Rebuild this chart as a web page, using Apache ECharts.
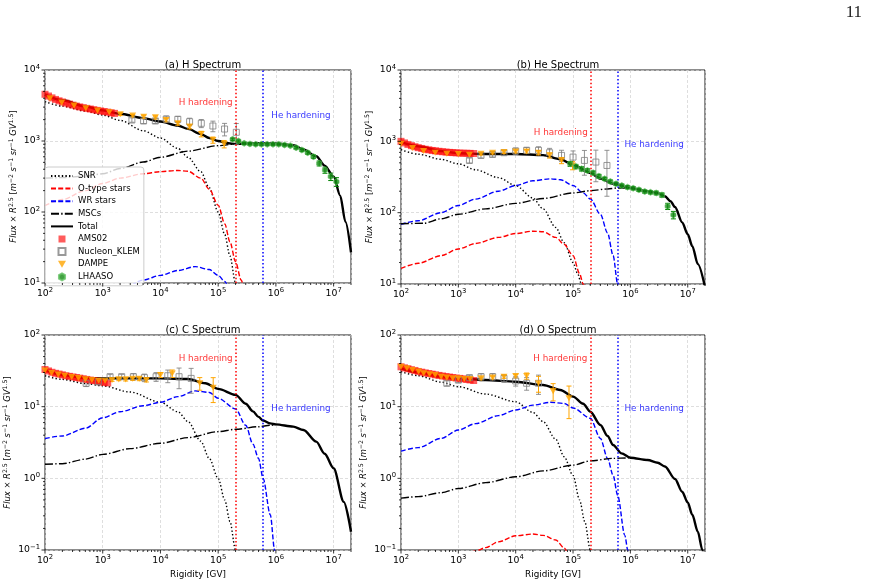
<!DOCTYPE html>
<html>
<head>
<meta charset="utf-8">
<script src="https://cdn.jsdelivr.net/npm/echarts/dist/echarts.min.js"></script>
<style>
html,body{margin:0;padding:0;background:#fff;}
#chart{width:869px;height:583px;}
</style>
</head>
<body>
<div id="chart"></div>
<script>
// ---------- model curves, [rigidity GV, flux*R^2.5] ----------
var H_SNR = [[1e2,3580],[2e2,3100],[5e2,2650],[1e3,2320],[2e3,1950],[5e3,1400],[1e4,1100],[2e4,790],[3e4,590],[5e4,370],[7e4,220],[1e5,100],[1.3e5,48],[1.6e5,24],[2e5,10],[2.3e5,5]];
var H_OTYPE = [[1e2,123],[2e2,150],[5e2,200],[1e3,252],[2e3,300],[5e3,345],[1e4,370],[2e4,385],[3e4,375],[5e4,300],[7e4,210],[1e5,125],[1.3e5,68],[1.6e5,38],[2e5,20],[2.5e5,11],[3e5,6]];
var H_WR = [[2.5e3,8],[5e3,11],[1e4,12.8],[2e4,15],[4e4,17],[7e4,15.5],[1e5,12.8],[1.3e5,10.5],[1.6e5,8],[2e5,5]];
var H_MSC = [[1e2,300],[2e2,305],[5e2,320],[1e3,345],[2e3,410],[5e3,505],[1e4,590],[3e4,720],[1e5,860],[2e5,905],[3e5,925],[5e5,930],[1e6,920]];
var H_TOTAL = [[1e2,4500],[2e2,3750],[5e2,3050],[1e3,2700],[2e3,2420],[5e3,2100],[1e4,1880],[2e4,1650],[3e4,1480],[5e4,1250],[7e4,1100],[1e5,1000],[1.5e5,930],[2e5,910],[3e5,920],[5e5,930],[1e6,920],[2e6,870],[3e6,760],[5e6,610],[7e6,450],[1e7,316],[1.3e7,170],[1.6e7,73],[2e7,27]];

var HE_SNR = [[1e2,763],[2e2,660],[5e2,560],[1e3,484],[2e3,400],[5e3,310],[1e4,240],[2e4,160],[3e4,113],[5e4,62],[7e4,38],[1e5,20],[1.2e5,14],[1.4e5,10],[1.7e5,6]];
var HE_OTYPE = [[1e2,16.6],[2e2,19.5],[5e2,25],[1e3,31],[2e3,37],[5e3,45],[1e4,51],[2e4,55],[3e4,54],[5e4,45],[7e4,36],[1e5,25],[1.3e5,14],[1.5e5,10],[1.8e5,6]];
var HE_WR = [[1e2,69],[2e2,77],[5e2,100],[1e3,126],[2e3,155],[5e3,200],[1e4,240],[2e4,280],[4e4,298],[6e4,290],[1e5,240],[1.5e5,190],[2e5,156],[3e5,95],[4e5,52],[5e5,25],[6e5,10],[7e5,4]];
var HE_MSC = [[1e2,70],[2.5e2,71],[5e2,82],[1e3,95],[3e3,113],[1e4,135],[3e4,158],[1e5,189],[2e5,203],[4e5,215],[6e5,222],[1e6,222]];
var HE_TOTAL = [[1e2,980],[2e2,850],[5e2,730],[1e3,680],[3e3,665],[1e4,665],[3e4,640],[6e4,560],[1e5,470],[2e5,360],[3e5,300],[5e5,255],[1e6,222],[2e6,200],[3e6,188],[4e6,170],[5e6,145],[6e6,120],[8e6,73],[1e7,50],[1.2e7,34],[1.5e7,19],[2e7,9]];

var C_SNR = [[1e2,27],[2e2,24],[5e2,21],[1e3,19.5],[3e3,16],[1e4,11.5],[2e4,8.5],[3e4,6.2],[5e4,3.3],[7e4,1.9],[1e5,1.0],[1.3e5,0.5],[1.6e5,0.25],[2e5,0.1],[2.2e5,0.06]];
var C_WR = [[1e2,3.6],[2e2,3.9],[5e2,5.0],[1e3,7.0],[2e3,8.5],[5e3,10.3],[1e4,11.5],[2e4,13.8],[4e4,16.6],[7e4,15.8],[1e5,13.1],[2e5,9.3],[3e5,5.5],[4e5,3.0],[5e5,1.9],[6e5,1.0],[8e5,0.31],[9.5e5,0.1],[1.05e6,0.05]];
var C_MSC = [[1e2,1.57],[2e2,1.6],[5e2,1.85],[1e3,2.16],[3e3,2.6],[1e4,3.08],[3e4,3.7],[1e5,4.48],[2e5,4.83],[5e5,5.25],[8e5,5.5],[1e6,5.6]];
var C_TOTAL = [[1e2,32.5],[2e2,27.7],[5e2,25],[1e3,24.8],[3e3,24.8],[1e4,24.8],[3e4,24.3],[6e4,21.2],[1e5,17.7],[2e5,14.6],[3e5,11],[4e5,8.6],[5e5,7.2],[6e5,6.4],[8e5,5.85],[1e6,5.66],[2e6,5.26],[3e6,4.72],[5e6,3.25],[7e6,2.2],[1e7,1.38],[1.5e7,0.47],[2e7,0.18]];

var O_SNR = [[1e2,30.8],[2e2,27],[5e2,22],[1e3,19],[3e3,15],[1e4,11.7],[2e4,8.3],[3e4,6.2],[5e4,3.5],[7e4,2.0],[1e5,1.1],[1.3e5,0.5],[1.6e5,0.25],[2e5,0.1],[2.2e5,0.06]];
var O_OTYPE = [[1.3e3,0.085],[2e3,0.097],[3e3,0.108],[5e3,0.13],[1e4,0.158],[2e4,0.167],[3e4,0.16],[5e4,0.138],[7e4,0.107],[8e4,0.09]];
var O_WR = [[1e2,2.4],[2e2,2.68],[5e2,3.6],[1e3,4.72],[2e3,5.8],[5e3,7.5],[1e4,9.0],[2e4,10.5],[4e4,11.5],[7e4,11.1],[1e5,9.6],[2e5,6.9],[3e5,3.6],[4e5,1.9],[5e5,1.1],[6e5,0.58],[8e5,0.16],[9e5,0.1],[1e6,0.06]];
var O_MSC = [[1e2,0.53],[2e2,0.555],[5e2,0.63],[1e3,0.72],[3e3,0.87],[1e4,1.05],[3e4,1.27],[1e5,1.53],[2e5,1.75],[5e5,1.9],[1e6,1.94]];
var O_TOTAL = [[1e2,34.3],[2e2,30.1],[5e2,26.2],[1e3,24.8],[3e3,23.5],[1e4,22.3],[3e4,20.1],[6e4,17.1],[1e5,13.8],[1.5e5,11],[2e5,8.5],[3e5,5.55],[4e5,3.9],[5e5,2.92],[7e5,2.23],[1e6,1.94],[2e6,1.8],[3e6,1.65],[4e6,1.46],[6e6,0.98],[8e6,0.65],[1e7,0.46],[1.2e7,0.31],[1.5e7,0.18],[1.8e7,0.1],[2e7,0.07]];

// ---------- measurements: rigidity, value, relative error ----------
var H_AMS_R = [100,115,132,152,175,200,230,265,305,350,400,460,530,610,700,800,920,1060,1220,1400,1600];
var H_AMS_F = [4550,4300,4050,3850,3680,3550,3420,3310,3200,3100,3020,2950,2880,2820,2760,2700,2650,2600,2550,2500,2450];
var H_DAMPE_R = [122,195,319,509,813,1296,2015,3300,5130,8180,12500,20000,32000,51000,81000,127000];
var H_DAMPE_F = [3990,3470,3150,2885,2675,2535,2375,2275,2200,2150,1977,1775,1592,1256,1033,908];
var H_DAMPE_E = [0.02,0.02,0.02,0.02,0.03,0.03,0.04,0.04,0.05,0.05,0.06,0.06,0.07,0.09,0.1,0.12];
var H_KLEM_R = [3200,5100,8150,12600,20000,32000,51000,81000,129000,206000];
var H_KLEM_F = [1975,1915,1915,2040,2020,1870,1775,1627,1475,1325];
var H_KLEM_E = [0.07,0.08,0.08,0.1,0.1,0.12,0.13,0.17,0.2,0.33];
var H_LHAASO_R = [1.78e5,2.24e5,2.82e5,3.55e5,4.47e5,5.62e5,7.08e5,8.91e5,1.12e6,1.41e6,1.78e6,2.24e6,2.82e6,3.55e6,4.47e6,5.62e6,7.08e6,8.91e6,1.12e7];
var H_LHAASO_F = [1055,1000,927,910,898,898,898,898,898,880,860,806,747,685,602,484,390,315,267];
var H_LHAASO_E = [0.04,0.03,0.03,0.03,0.03,0.03,0.03,0.03,0.03,0.03,0.03,0.04,0.04,0.05,0.06,0.08,0.1,0.12,0.14];

var HE_AMS_R = [100,115,132,152,175,200,230,265,305,350,400,460,530,610,700,800,920,1060,1220,1400,1600,1850];
var HE_AMS_F = [1000,950,905,870,840,815,795,775,760,745,735,725,715,707,700,695,690,685,682,680,678,675];
var HE_DAMPE_R = [100,159,248,395,630,1000,1560,2480,3950,6250,10000,15500,25000,39000,63000,98000];
var HE_DAMPE_F = [927,806,731,693,670,665,649,670,693,708,720,720,693,635,540,459];
var HE_DAMPE_E = [0.02,0.02,0.02,0.02,0.03,0.03,0.03,0.04,0.04,0.05,0.05,0.06,0.07,0.08,0.1,0.13];
var HE_KLEM_R = [1560,2480,3950,6250,10000,15500,25000,39000,63000,100000,158000,250000,390000];
var HE_KLEM_F = [540,635,656,693,731,748,748,693,635,601,540,512,459];
var HE_KLEM_E = [0.08,0.08,0.08,0.08,0.1,0.1,0.12,0.15,0.18,0.22,0.38,0.47,0.63];
var HE_LHAASO_R = [8.91e4,1.12e5,1.41e5,1.78e5,2.24e5,2.82e5,3.55e5,4.47e5,5.62e5,7.08e5,8.91e5,1.12e6,1.41e6,1.78e6,2.24e6,2.82e6,3.55e6,4.47e6,5.62e6];
var HE_LHAASO_F = [484,444,412,390,362,325,298,273,254,240,228,220,209,198,193,189,177,123,93];
var HE_LHAASO_E = [0.08,0.07,0.07,0.06,0.06,0.06,0.05,0.05,0.05,0.05,0.05,0.05,0.05,0.05,0.05,0.06,0.07,0.1,0.12];

var C_AMS_R = [100,115,132,152,175,200,230,265,305,350,400,460,530,610,700,800,920,1060,1220];
var C_AMS_F = [33,31.5,30.2,29.2,28.5,27.8,27,26.5,26,25.5,25,24.5,24,23.5,23.2,22.8,22.3,21.8,21.5];
var C_DAMPE_R = [100,130,170,220,290,380,500,650,850,1100,1450,1900,2500,3300,4300,5700,10000,16000,48000,82000];
var C_DAMPE_F = [32,29.5,28,27,26,25,24,23.5,23,23,23.5,24,24,24.5,24.5,23.5,27.7,29,21.2,18.4];
var C_DAMPE_E = [0.02,0.02,0.02,0.02,0.02,0.02,0.03,0.03,0.03,0.03,0.04,0.04,0.05,0.05,0.06,0.06,0.08,0.12,0.2,0.38];
var C_KLEM_R = [516,840,1340,2130,3400,5280,8400,13400,21000,34000];
var C_KLEM_F = [21.2,22.4,26.2,26.2,26.2,25.4,26.2,27,26.2,24.8];
var C_KLEM_E = [0.1,0.1,0.08,0.08,0.1,0.12,0.14,0.2,0.32,0.38];

var O_AMS_R = [100,115,132,152,175,200,230,265,305,350,400,460,530,610,700,800,920,1060,1220,1400,1600,1850];
var O_AMS_F = [36,34.8,33.8,32.8,32,31,30.3,29.6,29,28.4,27.8,27.3,26.8,26.3,25.9,25.5,25.1,24.8,24.4,24,23.6,23.2];
var O_DAMPE_R = [100,127,159,203,248,315,395,502,630,800,1000,1270,1600,2490,3970,6250,10000,15500,25000,45000,85000];
var O_DAMPE_F = [36.1,34.3,32.5,30.8,29.2,28.3,27.7,26.2,25.4,24.8,24.8,24.3,24.3,24.8,25.4,26.2,26.8,26.8,21.2,16.5,13.1];
var O_DAMPE_E = [0.02,0.02,0.02,0.02,0.02,0.02,0.03,0.03,0.03,0.03,0.03,0.04,0.04,0.04,0.05,0.05,0.06,0.1,0.25,0.27,0.48];
var O_KLEM_R = [630,1000,1560,2490,3970,6250,10000,15500,25000];
var O_KLEM_F = [21.2,23.5,25.4,26.2,26.2,24.8,22.8,21.2,21.2];
var O_KLEM_E = [0.08,0.08,0.08,0.1,0.1,0.12,0.15,0.2,0.3];

var H_HARDENING = 2e5, HE_HARDENING = 6e5;
var X_MIN = 1e2, X_MAX = 2e7;

// tick values for the log axes (decades + 2..9 minor)
var MAJOR_TICKS = [], MINOR_TICKS = [];
for (var e = -1; e <= 7; e++) {
	MAJOR_TICKS.push(Math.pow(10, e));
	for (var m = 2; m < 10; m++) MINOR_TICKS.push(m * Math.pow(10, e));
}

var panels = [
	{title:'(a) H Spectrum', grid:{left:45,top:70,width:306,height:213}, ymin:10, ymax:1e4, xname:false,
	 snr:H_SNR, otype:H_OTYPE, wr:H_WR, msc:H_MSC, total:H_TOTAL,
	 ams:[H_AMS_R,H_AMS_F], dampe:[H_DAMPE_R,H_DAMPE_F,H_DAMPE_E], klem:[H_KLEM_R,H_KLEM_F,H_KLEM_E], lhaaso:[H_LHAASO_R,H_LHAASO_F,H_LHAASO_E],
	 txtH:[6.07e4,3430], txtHe:[2.72e6,2250]},
	{title:'(b) He Spectrum', grid:{left:401,top:70,width:304,height:214}, ymin:10, ymax:1e4, xname:false,
	 snr:HE_SNR, otype:HE_OTYPE, wr:HE_WR, msc:HE_MSC, total:HE_TOTAL,
	 ams:[HE_AMS_R,HE_AMS_F], dampe:[HE_DAMPE_R,HE_DAMPE_F,HE_DAMPE_E], klem:[HE_KLEM_R,HE_KLEM_F,HE_KLEM_E], lhaaso:[HE_LHAASO_R,HE_LHAASO_F,HE_LHAASO_E],
	 txtH:[6.1e4,1340], txtHe:[2.6e6,908]},
	{title:'(c) C Spectrum', grid:{left:45,top:335,width:306,height:215}, ymin:0.1, ymax:100, xname:true,
	 snr:C_SNR, otype:[], wr:C_WR, msc:C_MSC, total:C_TOTAL,
	 ams:[C_AMS_R,C_AMS_F], dampe:[C_DAMPE_R,C_DAMPE_F,C_DAMPE_E], klem:[C_KLEM_R,C_KLEM_F,C_KLEM_E], lhaaso:null,
	 txtH:[6.07e4,46.3], txtHe:[2.72e6,9.3]},
	{title:'(d) O Spectrum', grid:{left:401,top:335,width:304,height:215}, ymin:0.1, ymax:100, xname:true,
	 snr:O_SNR, otype:O_OTYPE, wr:O_WR, msc:O_MSC, total:O_TOTAL,
	 ams:[O_AMS_R,O_AMS_F], dampe:[O_DAMPE_R,O_DAMPE_F,O_DAMPE_E], klem:[O_KLEM_R,O_KLEM_F,O_KLEM_E], lhaaso:null,
	 txtH:[6e4,46.3], txtHe:[2.6e6,9.3]}
];

var FONT = 'DejaVu Sans';
var SQUARE = 'path://M0,0L10,0L10,10L0,10Z';
var TRI_DOWN = 'path://M0,0L10,0L5,8.7Z';
var HEXAGON = 'path://M5,0L9.33,2.5L9.33,7.5L5,10L0.67,7.5L0.67,2.5Z';

var supStyle = {fontSize:6.8, verticalAlign:'top', lineHeight:13, color:'#000', fontFamily:FONT};
var nameRich = {
	s:{fontSize:6.2, verticalAlign:'top', lineHeight:12, fontFamily:FONT, color:'#000'},
	i:{fontStyle:'italic', fontSize:8.4, lineHeight:12, fontFamily:FONT, color:'#000'}
};

function powLabel(v){
	var lg = Math.log(v) / Math.LN10;
	var ex = Math.round(lg);
	if (Math.abs(lg - ex) > 1e-6) return '';
	return '10{s|' + (ex < 0 ? '\u2212' + (-ex) : ex) + '}';
}

function errRender(color){
	return function(params, api){
		var x = api.value(0), lo = api.value(1), hi = api.value(2);
		var a = api.coord([x, lo]), b = api.coord([x, hi]);
		var cap = 2.5, st = {stroke: color, lineWidth: 1};
		return {type:'group', children:[
			{type:'line', shape:{x1:a[0],y1:a[1],x2:b[0],y2:b[1]}, style:st},
			{type:'line', shape:{x1:a[0]-cap,y1:a[1],x2:a[0]+cap,y2:a[1]}, style:st},
			{type:'line', shape:{x1:b[0]-cap,y1:b[1],x2:b[0]+cap,y2:b[1]}, style:st}
		]};
	};
}

function tickRender(p){
	return function(params, api){
		var ch = [];
		var corner = api.coord([X_MIN, p.ymin]);
		function add(x1,y1,x2,y2){ ch.push({type:'line', shape:{x1:x1,y1:y1,x2:x2,y2:y2}, style:{stroke:'#000', lineWidth:0.8}}); }
		function put(list, len){
			list.forEach(function(v){
				if (v >= X_MIN*0.999 && v <= X_MAX) { var c = api.coord([v, p.ymin]); add(c[0], corner[1], c[0], corner[1]+len); }
				if (v >= p.ymin*0.999 && v <= p.ymax*1.001) { var d = api.coord([X_MIN, v]); add(corner[0], d[1], corner[0]-len, d[1]); }
			});
		}
		put(MAJOR_TICKS, 3.5);
		put(MINOR_TICKS, 2);
		return {type:'group', children:ch};
	};
}

function pts(R, F){ return R.map(function(r,k){ return [r, F[k]]; }); }
function errs(R, F, E){ return R.map(function(r,k){ return [r, F[k]*(1-E[k]), F[k]*(1+E[k])]; }); }

var noSym = {opacity:0};
var option = {
	animation:false,
	backgroundColor:'#fff',
	textStyle:{fontFamily:FONT},
	title:[], grid:[], xAxis:[], yAxis:[], series:[],
	legend:{
		data:[
			{name:'SNR', itemStyle:noSym}, {name:'O-type stars', itemStyle:noSym}, {name:'WR stars', itemStyle:noSym},
			{name:'MSCs', itemStyle:noSym}, {name:'Total', itemStyle:noSym},
			'AMS02','Nucleon_KLEM','DAMPE','LHAASO'
		],
		orient:'vertical', left:45, top:167,
		itemWidth:22, itemHeight:7, itemGap:2.6, symbolKeepAspect:true,
		backgroundColor:'rgba(255,255,255,0.8)', borderColor:'#cccccc', borderWidth:1, borderRadius:3,
		padding:[4,4,4,5],
		textStyle:{fontSize:8.5, lineHeight:10, color:'#000', fontFamily:FONT}
	},
	graphic:[{type:'text', right:7, top:4, style:{text:'11', font:'17px "Liberation Serif"', fill:'#222'}}]
};

panels.forEach(function(p, i){
	var gx = p.grid.left + p.grid.width/2;
	option.title.push({text:p.title, left:gx, top:p.grid.top-15, textAlign:'center',
		textStyle:{fontSize:10, fontWeight:'normal', color:'#000', fontFamily:FONT}});
	option.grid.push({left:p.grid.left, top:p.grid.top, width:p.grid.width, height:p.grid.height,
		show:true, borderColor:'#000', borderWidth:0.9, backgroundColor:'rgba(0,0,0,0)'});
	option.xAxis.push({
		type:'log', logBase:10, gridIndex:i, min:X_MIN, max:X_MAX,
		name: p.xname ? 'Rigidity [GV]' : '', nameLocation:'middle', nameGap:20,
		nameTextStyle:{fontSize:8.8, color:'#000', fontFamily:FONT},
		axisLine:{show:false}, axisTick:{show:false},
		axisLabel:{formatter:powLabel, fontSize:9.3, lineHeight:13, color:'#000', margin:4, showMaxLabel:false, rich:{s:supStyle}},
		splitLine:{show:true, lineStyle:{color:'#d0d0d0', width:0.7, type:[3,2]}}
	});
	option.yAxis.push({
		type:'log', logBase:10, gridIndex:i, min:p.ymin, max:p.ymax,
		name:'{i|Flux} \u00d7 {i|R}{s|2.5} [{i|m}{s|\u22122} {i|s}{s|\u22121} {i|sr}{s|\u22121} {i|GV}{s|1.5}]',
		nameLocation:'middle', nameGap:23, nameRotate:90,
		nameTextStyle:{fontSize:8.4, color:'#000', fontFamily:FONT, lineHeight:12, rich:nameRich},
		axisLine:{show:false}, axisTick:{show:false},
		axisLabel:{formatter:powLabel, fontSize:9.3, lineHeight:13, color:'#000', margin:5, rich:{s:supStyle}},
		splitLine:{show:true, lineStyle:{color:'#d0d0d0', width:0.7, type:[3,2]}}
	});

	function curve(name, data, color, dash, width, z){
		return {name:name, type:'line', xAxisIndex:i, yAxisIndex:i, data:data, symbol:'none', showSymbol:false,
			smooth:0.3, smoothMonotone:'x', clip:true, silent:true, z:z,
			lineStyle:{color:color, width:width, type:dash}, itemStyle:{color:color}};
	}
	option.series.push(curve('SNR', p.snr, '#000', [1.4,2.2], 1.4, 2));
	option.series.push(curve('O-type stars', p.otype, '#ff0000', [5,2.2], 1.4, 2));
	option.series.push(curve('WR stars', p.wr, '#0000ff', [5,2.2], 1.4, 2));
	option.series.push(curve('MSCs', p.msc, '#000', [8,2.2,1.4,2.2], 1.4, 2));
	option.series.push(curve('Total', p.total, '#000', 'solid', 2.4, 3));

	function errSeries(d, color){
		return {type:'custom', xAxisIndex:i, yAxisIndex:i, renderItem:errRender(color), data:errs(d[0],d[1],d[2]),
			encode:{x:0, y:[1,2]}, clip:true, silent:true, z:4};
	}
	option.series.push({name:'AMS02', type:'scatter', xAxisIndex:i, yAxisIndex:i, data:pts(p.ams[0],p.ams[1]),
		symbol:SQUARE, symbolKeepAspect:true, symbolSize:7, itemStyle:{color:'rgba(255,0,0,0.8)'}, z:4, silent:true});
	option.series.push(errSeries(p.klem, 'rgba(128,128,128,0.85)'));
	option.series.push({name:'Nucleon_KLEM', type:'scatter', xAxisIndex:i, yAxisIndex:i, data:pts(p.klem[0],p.klem[1]),
		symbol:SQUARE, symbolKeepAspect:true, symbolSize:6,
		itemStyle:{color:'rgba(255,255,255,0)', borderColor:'#808080', borderWidth:1}, z:4, silent:true});
	option.series.push(errSeries(p.dampe, '#ffa500'));
	option.series.push({name:'DAMPE', type:'scatter', xAxisIndex:i, yAxisIndex:i, data:pts(p.dampe[0],p.dampe[1]),
		symbol:TRI_DOWN, symbolKeepAspect:true, symbolSize:7, itemStyle:{color:'#ffa500'}, z:5, silent:true});
	if (p.lhaaso) {
		option.series.push(errSeries(p.lhaaso, '#008000'));
		option.series.push({name:'LHAASO', type:'scatter', xAxisIndex:i, yAxisIndex:i, data:pts(p.lhaaso[0],p.lhaaso[1]),
			symbol:HEXAGON, symbolKeepAspect:true, symbolSize:6,
			itemStyle:{color:'#138a13', borderColor:'#63c063', borderWidth:0.8}, z:5, silent:true});
	}

	// hardening markers and their captions
	option.series.push({type:'scatter', xAxisIndex:i, yAxisIndex:i, symbolSize:0, silent:true, z:6,
		data:[
			{value:p.txtH, label:{show:true, position:'inside', formatter:'H hardening', color:'#ff0000', fontSize:8.8, fontFamily:FONT}},
			{value:p.txtHe, label:{show:true, position:'inside', formatter:'He hardening', color:'#0000ff', fontSize:8.8, fontFamily:FONT}}
		],
		markLine:{silent:true, symbol:['none','none'], label:{show:false}, animation:false,
			data:[
				{xAxis:H_HARDENING, lineStyle:{color:'#ff0000', type:[1.5,2.2], width:1.5}},
				{xAxis:HE_HARDENING, lineStyle:{color:'#0000ff', type:[1.5,2.2], width:1.5}}
			]}
	});

	option.series.push({type:'custom', xAxisIndex:i, yAxisIndex:i, renderItem:tickRender(p),
		data:[[X_MIN, p.ymin]], clip:false, silent:true, z:7});
});

var chart = echarts.init(document.getElementById('chart'), null, {renderer:'canvas'});
chart.setOption(option);

window.onresize = function(){ chart.resize(); };
</script>
</body>
</html>
